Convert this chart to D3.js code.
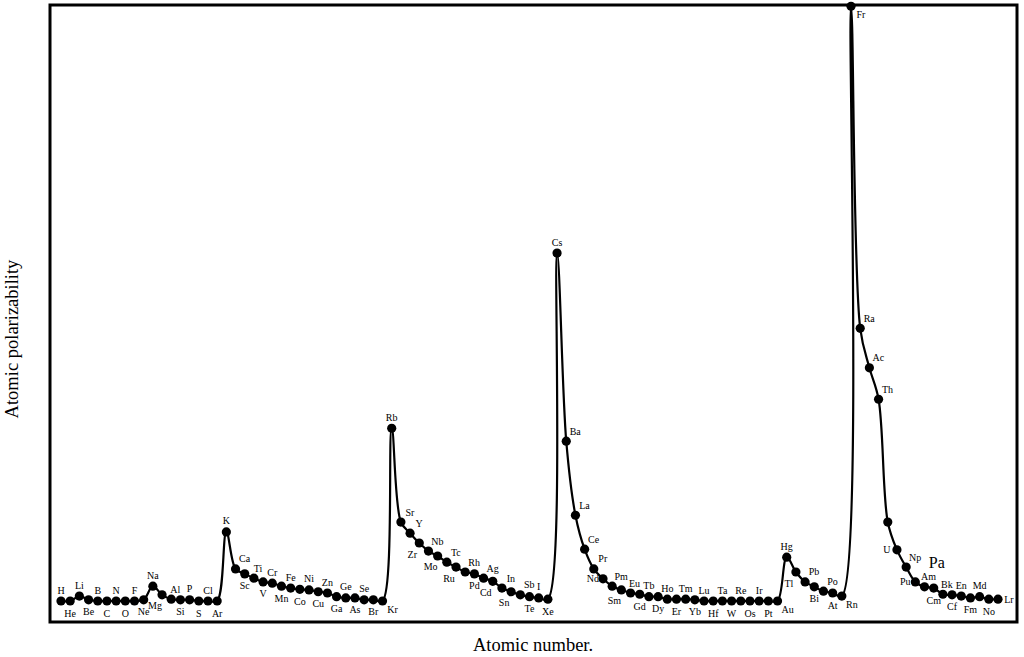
<!DOCTYPE html>
<html>
<head>
<meta charset="utf-8">
<script src="https://cdn.jsdelivr.net/npm/d3@7"></script>
<style>
  html, body { margin: 0; padding: 0; background: #fff; }
  svg { display: block; }
  text { font-family: "Liberation Serif", "Times New Roman", serif; fill: #000; }
</style>
</head>
<body>
<svg id="chart" width="1024" height="657"></svg>
<script>
// ---- data ----
const elements = ["H","He","Li","Be","B","C","N","O","F","Ne",
  "Na","Mg","Al","Si","P","S","Cl","Ar","K","Ca",
  "Sc","Ti","V","Cr","Mn","Fe","Co","Ni","Cu","Zn",
  "Ga","Ge","As","Se","Br","Kr","Rb","Sr","Y","Zr",
  "Nb","Mo","Tc","Ru","Rh","Pd","Ag","Cd","In","Sn",
  "Sb","Te","I","Xe","Cs","Ba","La","Ce","Pr","Nd",
  "Pm","Sm","Eu","Gd","Tb","Dy","Ho","Er","Tm","Yb",
  "Lu","Hf","Ta","W","Re","Os","Ir","Pt","Au","Hg",
  "Tl","Pb","Bi","Po","At","Rn","Fr","Ra","Ac","Th",
  "Pa","U","Np","Pu","Am","Cm","Bk","Cf","En","Fm",
  "Md","No","Lr"];
const atomicNumbers = d3.range(1, 104);
const polarizability = [3.4,3.4,4.2,3.6,3.4,3.4,3.4,3.4,3.4,3.6,
  5.8,4.4,3.7,3.6,3.6,3.4,3.4,3.4,14.6,8.6,
  7.8,7.1,6.5,6.3,5.8,5.5,5.3,5.2,4.9,4.7,
  4.1,3.9,3.9,3.6,3.6,3.4,31.4,16.2,14.4,12.8,
  11.5,10.7,9.7,8.9,8.1,7.8,7.1,6.6,5.5,4.9,
  4.4,4.1,3.9,3.7,59.8,29.3,17.3,11.8,8.6,7.0,
  5.8,5.2,4.7,4.5,4.1,4.1,3.7,3.7,3.7,3.6,
  3.4,3.4,3.4,3.4,3.4,3.4,3.4,3.4,3.4,10.5,
  8.1,6.5,5.7,5.0,4.7,4.2,99.8,47.6,41.2,36.1,
  16.2,11.7,8.9,6.5,5.7,5.5,4.5,4.4,4.2,3.9,
  4.1,3.7,3.7];
// label placement codes (a=above, b=below, ar=above-right, as=above, slightly right, bl=below-left, br=below-right, l=left, r=right)
const labelPlace = ["a","b","a","b","a","b","a","b","a","b",
  "a","bl","as","b","a","b","a","b","a","ar",
  "b","as","b","a","b","a","b","a","b","a",
  "b","a","b","a","b","br","a","ar","ar","bl",
  "ar","bl","ar","bl","ar","b","ar","bl","ar","bl",
  "ar","b","a","b","a","ar","ar","ar","ar","l",
  "ar","bl","as","b","a","b","a","b","a","b",
  "a","b","a","b","a","b","a","b","br","a",
  "bl","ar","b","ar","b","br","br","ar","ar","ar",
  "pa","l","ar","l","as","b","as","b","a","b",
  "a","b","r"];

const xTitle = "Atomic number.";
const yTitle = "Atomic polarizability";

// ---- layout ----
const svg = d3.select("#chart");
const frame = {left: 50, top: 5, right: 1017, bottom: 622};

const x = d3.scaleLinear().domain([1, 103]).range([61, 998]);
const y = d3.scaleLinear().domain([0, 100]).range([frame.bottom, frame.top]);

const pts = atomicNumbers.map((n, i) => ({n, sym: elements[i], v: polarizability[i], place: labelPlace[i]}));

// frame
svg.append("rect")
  .attr("x", frame.left).attr("y", frame.top)
  .attr("width", frame.right - frame.left).attr("height", frame.bottom - frame.top)
  .attr("fill", "none").attr("stroke", "#000").attr("stroke-width", 3);

// line
const line = d3.line()
  .x(d => x(d.n)).y(d => y(d.v))
  .curve(d3.curveCatmullRom.alpha(0.5));

svg.append("path")
  .datum(pts)
  .attr("d", line)
  .attr("fill", "none")
  .attr("stroke", "#000")
  .attr("stroke-width", 2.2);

// dots
svg.append("g").selectAll("circle")
  .data(pts).join("circle")
  .attr("cx", d => x(d.n)).attr("cy", d => y(d.v))
  .attr("r", 4.6).attr("fill", "#000");

// labels
const off = {
  a: [0, -11], b: [0, 12], ar: [9, -10], as: [4, -10], bl: [-7, 11], br: [10, 8],
  l: [-10, 0], r: [11, 0], pa: [49, 40]
};
svg.append("g").selectAll("text")
  .data(pts).join("text")
  .attr("x", d => x(d.n) + off[d.place][0])
  .attr("y", d => y(d.v) + off[d.place][1])
  .attr("text-anchor", "middle")
  .attr("dominant-baseline", "central")
  .attr("font-size", d => d.place === "pa" ? 16 : 10)
  .text(d => d.sym);

// axis titles
svg.append("text")
  .attr("x", 533).attr("y", 651)
  .attr("text-anchor", "middle")
  .attr("font-size", 18.5)
  .text(xTitle);

svg.append("text")
  .attr("transform", "translate(18,339) rotate(-90)")
  .attr("text-anchor", "middle")
  .attr("font-size", 18.5)
  .text(yTitle);
</script>
</body>
</html>
